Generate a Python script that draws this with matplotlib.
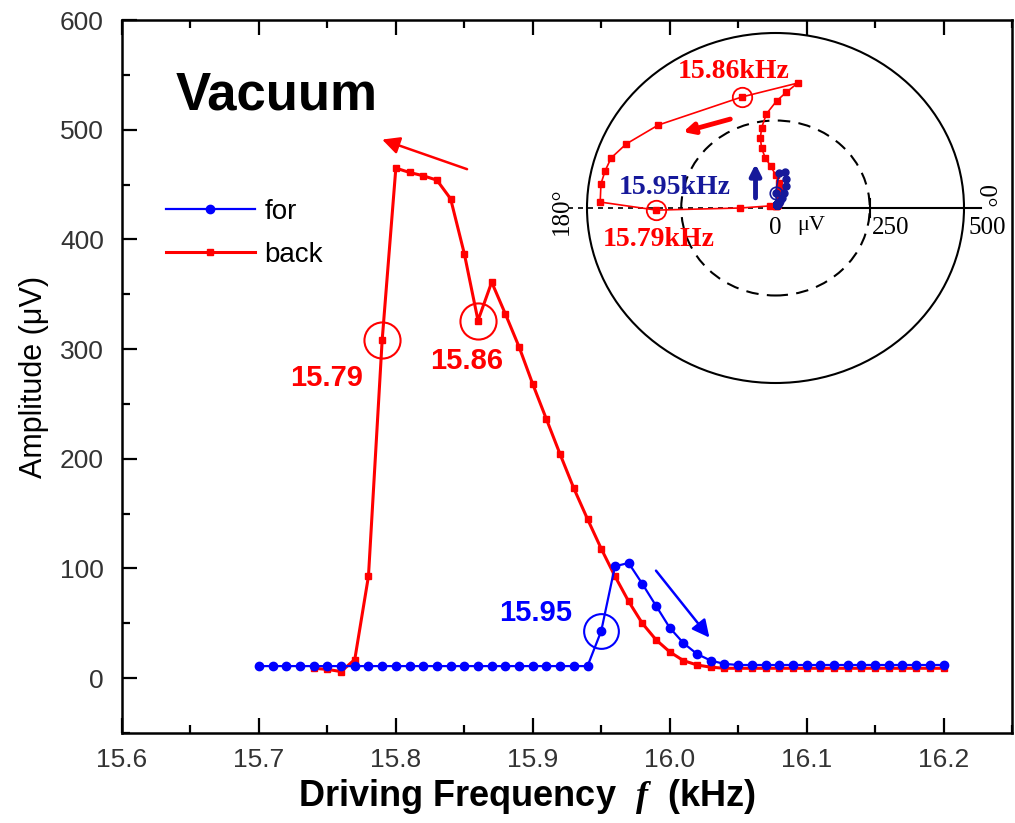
import matplotlib
matplotlib.use("Agg")
import matplotlib.pyplot as plt
from matplotlib.patches import Circle
from matplotlib.ticker import MultipleLocator

plt.rcParams['font.family'] = ['Liberation Sans', 'DejaVu Sans']
plt.rcParams['mathtext.fontset'] = 'custom'
plt.rcParams['mathtext.it'] = 'Liberation Serif:italic:bold'
plt.rcParams['mathtext.rm'] = 'Liberation Sans'

# ---- main panel data (kHz, uV) ----
freq_for = [15.70, 15.71, 15.72, 15.73, 15.74, 15.75, 15.76, 15.77, 15.78, 15.79,
            15.80, 15.81, 15.82, 15.83, 15.84, 15.85, 15.86, 15.87, 15.88, 15.89,
            15.90, 15.91, 15.92, 15.93, 15.94, 15.95, 15.96, 15.97, 15.98, 15.99,
            16.00, 16.01, 16.02, 16.03, 16.04, 16.05, 16.06, 16.07, 16.08, 16.09,
            16.10, 16.11, 16.12, 16.13, 16.14, 16.15, 16.16, 16.17, 16.18, 16.19,
            16.20]
amp_for = [11, 11, 11, 11, 11, 11, 11, 11, 11, 11,
           11, 11, 11, 11, 11, 11, 11, 11, 11, 11,
           11, 11, 11, 11, 11, 43, 102, 105, 86, 66,
           46, 32, 22, 16, 13, 12, 12, 12, 12, 12,
           12, 12, 12, 12, 12, 12, 12, 12, 12, 12,
           12]

freq_back = [15.74, 15.75, 15.76, 15.77, 15.78, 15.79, 15.80, 15.81, 15.82, 15.83,
             15.84, 15.85, 15.86, 15.87, 15.88, 15.89, 15.90, 15.91, 15.92, 15.93,
             15.94, 15.95, 15.96, 15.97, 15.98, 15.99, 16.00, 16.01, 16.02, 16.03,
             16.04, 16.05, 16.06, 16.07, 16.08, 16.09, 16.10, 16.11, 16.12, 16.13,
             16.14, 16.15, 16.16, 16.17, 16.18, 16.19, 16.20]
amp_back = [9, 8, 6, 17, 93, 308, 465, 461, 458, 454,
            437, 387, 326, 361, 332, 302, 268, 236, 204, 173,
            145, 118, 93, 70, 50, 35, 24, 16, 12, 10,
            9, 9, 9, 9, 9, 9, 9, 9, 9, 9,
            9, 9, 9, 9, 9, 9, 9]

# ---- inset (polar plane) data, in-phase / quadrature in uV ----
x_back_in = [2, 2, 1, -15, -93, -316, -465, -463, -452, -436,
             -396, -311, -90, 59, 29, 3, -24, -37, -40, -37,
             -27, -13, 0, 8, 12, 12, 10, 8, 6, 5,
             5, 5, 5, 5, 5, 5, 5, 5, 5, 5,
             5, 5, 5, 5, 5, 5, 5]
y_back_in = [6, 6, 5, 6, 0, -6, 17, 69, 106, 143,
             183, 237, 317, 357, 331, 306, 269, 229, 200, 171,
             143, 120, 95, 72, 52, 37, 26, 17, 12, 9,
             9, 9, 9, 9, 9, 9, 9, 9, 9, 9,
             9, 9, 9, 9, 9, 9, 9]
x_for_in = [4, 4, 4, 4, 4, 4, 4, 4, 4, 4,
            4, 4, 4, 4, 4, 4, 4, 4, 4, 4,
            4, 4, 4, 4, 4, 0, 10, 24, 28, 27,
            22, 17, 12, 8, 5, 5, 5, 5, 5, 5,
            5, 5, 5, 5, 5, 5, 5, 5, 5, 5,
            5]
y_for_in = [10, 10, 10, 10, 10, 10, 10, 10, 10, 10,
            10, 10, 10, 10, 10, 10, 10, 10, 10, 10,
            10, 10, 10, 10, 10, 43, 101, 103, 84, 64,
            43, 28, 19, 14, 11, 11, 11, 11, 11, 11,
            11, 11, 11, 11, 11, 11, 11, 11, 11, 11,
            11]

RED = '#ff0000'
BLUE = '#0000ff'
NAVY = '#16199a'

W, H = 1015, 823
fig = plt.figure(figsize=(W / 100, H / 100), dpi=100)


def fx(px):
    return px / W


def fy(py):
    return 1 - py / H


ax = fig.add_axes([fx(122), fy(733), fx(1012) - fx(122), fy(20) - fy(733)])

ax.plot(freq_back, amp_back, '-s', color=RED, lw=2.2, ms=4.5, zorder=2, label='back')
ax.plot(freq_for, amp_for, '-o', color=BLUE, lw=1.6, ms=6, zorder=3, label='for')

ax.set_xlim(15.6, 16.25)
ax.set_ylim(-50, 600)
ax.xaxis.set_major_locator(MultipleLocator(0.1))
ax.xaxis.set_minor_locator(MultipleLocator(0.05))
ax.yaxis.set_major_locator(MultipleLocator(100))
ax.yaxis.set_minor_locator(MultipleLocator(50))
ax.xaxis.set_major_formatter(plt.FuncFormatter(lambda v, p: f"{v:.1f}"))
ax.tick_params(which='both', direction='in', top=True, right=False,
               width=1.6, labelsize=19, labelcolor='#333333')
ax.tick_params(which='major', length=11)
ax.tick_params(which='minor', length=6)
ax.tick_params(axis='x', pad=11)
ax.tick_params(axis='y', pad=13)
for s in ax.spines.values():
    s.set_linewidth(1.8)

ax.set_ylabel('Amplitude (μV)', fontsize=22, labelpad=8)
fig.text(fx(527), fy(796), 'Driving Frequency  $f$  (kHz)', fontsize=26,
         fontweight='bold', ha='center', va='center')
fig.text(fx(277), fy(96), 'Vacuum', fontsize=38, fontweight='bold',
         ha='center', va='center')

# legend in "for", "back" order
h, l = ax.get_legend_handles_labels()
ax.legend([h[1], h[0]], [l[1], l[0]], loc='upper left', frameon=False,
          bbox_to_anchor=(fx(166), fy(199)), bbox_transform=fig.transFigure,
          fontsize=20, handlelength=3.2, handletextpad=0.35, labelspacing=0.6,
          borderpad=0, borderaxespad=0)

# circled points
i79 = freq_back.index(15.79)
i86 = freq_back.index(15.86)
i95 = freq_for.index(15.95)
ax.plot([freq_back[i79], freq_back[i86]], [amp_back[i79], amp_back[i86]], 'o',
        mfc='none', mec=RED, mew=1.5, ms=26, zorder=4)
ax.plot([freq_for[i95]], [amp_for[i95]], 'o', mfc='none', mec=BLUE, mew=1.5,
        ms=25, zorder=4)

ax.text(15.7496, 274, '15.79', color=RED, fontsize=21, fontweight='bold',
        ha='center', va='center')
ax.text(15.8518, 289, '15.86', color=RED, fontsize=21, fontweight='bold',
        ha='center', va='center')
ax.text(15.9022, 59, '15.95', color=BLUE, fontsize=21, fontweight='bold',
        ha='center', va='center')

# sweep direction arrows
ax.annotate('', xy=(15.79, 491), xytext=(15.852, 464),
            arrowprops=dict(arrowstyle='-|>', color=RED, lw=1.8,
                            mutation_scale=26, shrinkA=0, shrinkB=0))
ax.annotate('', xy=(16.029, 37), xytext=(15.99, 98),
            arrowprops=dict(arrowstyle='-|>', color=BLUE, lw=1.8,
                            mutation_scale=26, shrinkA=0, shrinkB=0))

# ---- inset polar diagram ----
ax2 = fig.add_axes([fx(587), fy(383), fx(964) - fx(587), fy(33) - fy(383)])
ax2.set_xlim(-500, 500)
ax2.set_ylim(-500, 500)
ax2.axis('off')
ax2.add_patch(Circle((0, 0), 500, fill=False, ec='black', lw=1.5, clip_on=False))
ax2.add_patch(Circle((0, 0), 250, fill=False, ec='black', lw=1.5,
                     ls=(0, (6, 4)), clip_on=False))
ax2.plot([-550, 0], [0, 0], color='black', lw=1.2, ls=(0, (3, 3)), clip_on=False)
ax2.plot([0, 545], [0, 0], color='black', lw=1.5, clip_on=False)
ax2.plot([250, 250], [-25, 25], color='black', lw=1.5)

ax2.plot(x_back_in, y_back_in, '-s', color=RED, lw=1.2, ms=4.5, clip_on=False, zorder=3)
ax2.plot(x_for_in, y_for_in, '-o', color=NAVY, lw=1.2, ms=5, clip_on=False, zorder=4)
ax2.plot([x_back_in[i79], x_back_in[i86]], [y_back_in[i79], y_back_in[i86]], 'o',
         mfc='none', mec=RED, mew=1.3, ms=14, zorder=5)
ax2.plot([x_for_in[i95]], [y_for_in[i95]], 'o', mfc='none', mec=NAVY, mew=1.2,
         ms=9, zorder=5)

serif = ['Liberation Serif', 'DejaVu Serif']
ax2.text(-112, 391, '15.86kHz', color=RED, fontsize=20, fontweight='bold',
         family=serif, ha='center', va='center')
ax2.text(-266, 60, '15.95kHz', color=NAVY, fontsize=20, fontweight='bold',
         family=serif, ha='center', va='center')
ax2.text(-311, -91, '15.79kHz', color=RED, fontsize=20, fontweight='bold',
         family=serif, ha='center', va='center')
ax2.text(0, -57, '0', fontsize=18, family=serif, ha='center', va='center')
ax2.text(96, -49, 'μV', fontsize=16, family=serif, ha='center', va='center')
ax2.text(306, -57, '250', fontsize=18, family=serif, ha='center', va='center')
ax2.text(561, -57, '500', fontsize=18, family=serif, ha='center', va='center')
ax2.text(553, 34, '0°', fontsize=18, family=serif, rotation=-90,
         ha='center', va='center')
ax2.text(-566, -9, '180°', fontsize=18, family=serif, rotation=90,
         ha='center', va='center')

ax2.annotate('', xy=(-245, 217), xytext=(-120, 254),
             arrowprops=dict(arrowstyle='-|>', color=RED, lw=3.5,
                             mutation_scale=16, shrinkA=0, shrinkB=0))
ax2.annotate('', xy=(-53, 126), xytext=(-53, 29),
             arrowprops=dict(arrowstyle='-|>', color=NAVY, lw=3.5,
                             mutation_scale=16, shrinkA=0, shrinkB=0))

fig.savefig('out.png', dpi=100)
